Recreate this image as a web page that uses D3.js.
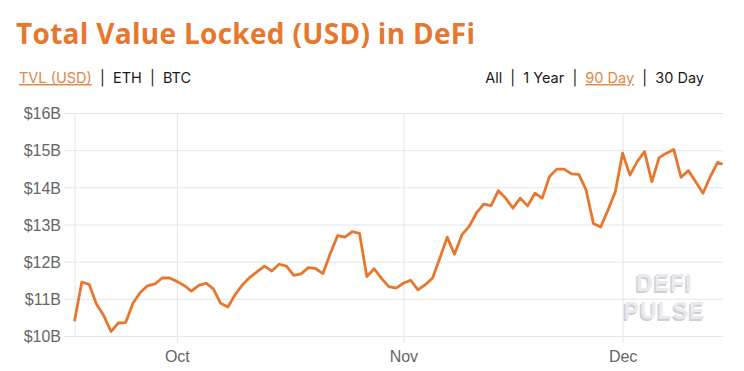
<!doctype html>
<html lang="en">
<head>
    <meta charset="utf-8">
    <title>Total Value Locked (USD) in DeFi</title>
    <script src="https://cdnjs.cloudflare.com/ajax/libs/d3/7.8.5/d3.min.js"></script>
    <style>
        body { margin: 0; background: #fff; }
        #chart text { font-family: "Liberation Sans", Arial, sans-serif; }
        #chart .title { font-family: "Open Sans", sans-serif; font-weight: 700; font-size: 28px; letter-spacing: 0.3px; fill: #e8772e; }
        #chart .nav { font-family: Inter, "Open Sans", sans-serif; font-size: 14.5px; fill: #1a1a1a; }
        #chart .nav .on { fill: #e0874a; text-decoration: underline; }
        #chart .axis text { font-size: 16px; fill: #666; }
        #chart .axis line { stroke: #e6e6e6; }
        #chart .mark { font-family: "DejaVu Sans", sans-serif; font-weight: 700; font-size: 23px; text-anchor: middle; }
    </style>
</head>
<body>
<svg id="chart"></svg>
<script>
    // daily TVL in billions USD, 17 Sep 2020 .. 14 Dec 2020 (last point is intraday)
    var startDate = new Date(2020, 8, 17);
    var lastStamp = new Date(2020, 11, 14, 16);
    var tvl = [
        10.40, 11.45, 11.39, 10.86, 10.55, 10.12, 10.35, 10.36, 10.88, 11.17,
        11.35, 11.40, 11.56, 11.56, 11.47, 11.36, 11.21, 11.36, 11.42, 11.27,
        10.88, 10.78, 11.12, 11.38, 11.58, 11.73, 11.88, 11.75, 11.93, 11.88,
        11.63, 11.67, 11.84, 11.81, 11.68, 12.22, 12.70, 12.66, 12.81, 12.76,
        11.60, 11.81, 11.55, 11.33, 11.29, 11.42, 11.50, 11.24, 11.38, 11.56,
        12.10, 12.66, 12.20, 12.72, 12.95, 13.31, 13.55, 13.51, 13.91, 13.71,
        13.44, 13.71, 13.50, 13.84, 13.71, 14.29, 14.49, 14.49, 14.36, 14.35,
        13.93, 13.03, 12.93, 13.39, 13.88, 14.92, 14.33, 14.69, 14.96, 14.15,
        14.80, 14.92, 15.02, 14.27, 14.45, 14.15, 13.84, 14.29, 14.67, 14.62
    ];
    var yTicks = [10, 11, 12, 13, 14, 15, 16];
    var monthTicks = [new Date(2020, 9, 1), new Date(2020, 10, 1), new Date(2020, 11, 1)];
    var navLeft = ["TVL (USD)", "ETH", "BTC"];
    var navRight = ["All", "1 Year", "90 Day", "30 Day"];
    var navLeftOn = "TVL (USD)";
    var navRightOn = "90 Day";

    var width = 744, height = 371;
    var plotL = 75, plotR = 723, plotT = 113, plotB = 336;

    var dates = d3.timeDay.range(startDate, lastStamp).concat([lastStamp]);
    var data = tvl.map(function(v, i) { return {date: dates[i], value: v}; });

    var svg = d3.select('#chart')
        .attr('width', width)
        .attr('height', height);

    svg.append('rect').attr('width', width).attr('height', height).attr('fill', '#fff');

    var x = d3.scaleTime()
        .domain([startDate, lastStamp])
        .range([plotL - 0.5, plotR - 0.5]);

    var y = d3.scaleLinear()
        .domain([10, 16])
        .range([plotB, plotT]);

    // horizontal grid + labels
    var yAxis = svg.append('g')
        .attr('class', 'axis')
        .attr('transform', 'translate(' + plotR + ',0)')
        .call(d3.axisLeft(y)
            .tickValues(yTicks)
            .tickSize(plotR - 64)
            .tickPadding(3)
            .tickFormat(function(d) { return '$' + d + 'B'; }));
    yAxis.select('.domain').remove();
    yAxis.selectAll('.tick text').attr('dy', '0.36em');
    yAxis.selectAll('.tick').filter(function(d) { return d === 10; })
        .select('line').attr('stroke', '#d2d2d2');

    // month grid + labels
    var xAxis = svg.append('g')
        .attr('class', 'axis')
        .attr('transform', 'translate(0,' + plotT + ')')
        .call(d3.axisBottom(x)
            .tickValues(monthTicks)
            .tickSize(343 - plotT)
            .tickPadding(8)
            .tickFormat(d3.timeFormat('%b')));
    xAxis.select('.domain').remove();

    // left edge
    svg.append('line')
        .attr('x1', plotL).attr('x2', plotL)
        .attr('y1', plotT).attr('y2', plotB)
        .attr('stroke', '#e6e6e6');

    // watermark
    var mark = svg.append('g').attr('class', 'mark');
    [['DEFI', 291], ['PULSE', 319]].forEach(function(w) {
        mark.append('text')
            .attr('x', 663).attr('y', w[1] + 1.5)
            .attr('fill', '#cfcfd6')
            .attr('letter-spacing', 1)
            .text(w[0]);
        mark.append('text')
            .attr('x', 664.5).attr('y', w[1])
            .attr('fill', '#e9e9ee')
            .attr('letter-spacing', 1)
            .text(w[0]);
    });

    var line = d3.line()
        .x(function(d) { return x(d.date); })
        .y(function(d) { return y(d.value); });

    svg.append('path')
        .datum(data)
        .attr('fill', 'none')
        .attr('stroke', '#e8772e')
        .attr('stroke-width', 2.8)
        .attr('stroke-linejoin', 'round')
        .attr('d', line);

    // title and nav
    svg.append('text')
        .attr('class', 'title')
        .attr('x', 16)
        .attr('y', 44)
        .text('Total Value Locked (USD) in DeFi');

    function nav(items, on, xPos, anchor) {
        var t = svg.append('text')
            .attr('class', 'nav')
            .attr('x', xPos)
            .attr('y', 83)
            .attr('text-anchor', anchor)
            .attr('xml:space', 'preserve');
        items.forEach(function(s, i) {
            if (i > 0) t.append('tspan').text('  |  ');
            t.append('tspan').attr('class', s === on ? 'on' : null).text(s);
        });
    }
    nav(navLeft, navLeftOn, 19, 'start');
    nav(navRight, navRightOn, 704, 'end');
</script>
</body>
</html>
